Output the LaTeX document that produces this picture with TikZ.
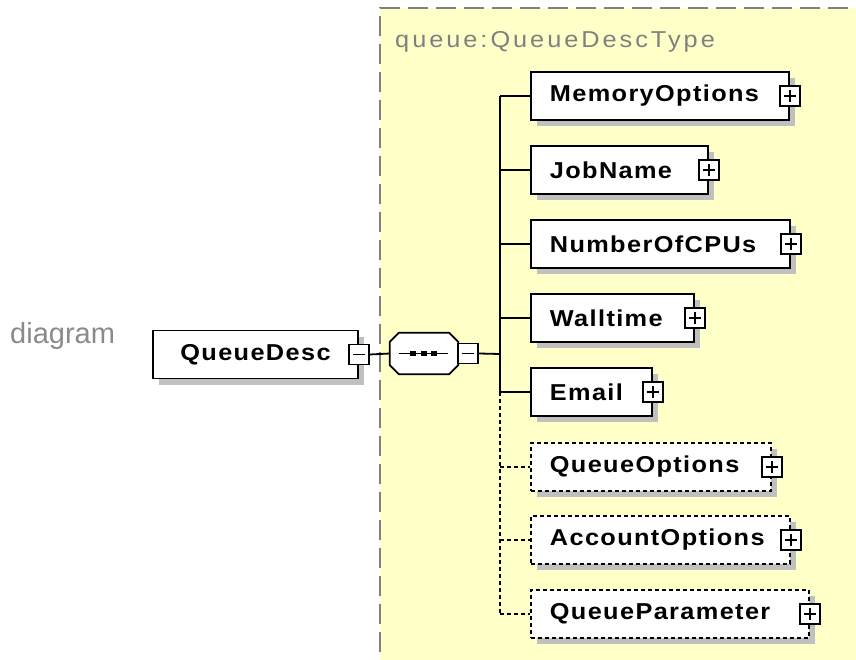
\documentclass[tikz,border=0pt]{standalone}
\usepackage{fontspec}
\setmainfont{Liberation Sans}
\newfontfamily\boxfont[FakeStretch=1.1,LetterSpace=6]{Liberation Sans}
\newfontfamily\typefont[FakeStretch=1.1,LetterSpace=13]{Liberation Sans}
\usetikzlibrary{shadows}
\definecolor{bgyellow}{HTML}{FFFFC8}
\definecolor{shadowgray}{HTML}{C0C0C0}
\definecolor{labelgray}{HTML}{808080}
\definecolor{diaggray}{HTML}{8A8A8A}
\newcommand{\etext}[2]{\makebox[#1][l]{#2}}
\tikzset{
  elem/.style={draw, line width=1.8pt, fill=white, minimum height=48pt,
    inner xsep=19pt, inner ysep=0pt,
    font=\boxfont\bfseries\fontsize{23}{26}\selectfont,
    drop shadow={shadow xshift=6pt, shadow yshift=-6pt, fill=shadowgray, opacity=1}},
  optelem/.style={elem, dash pattern=on 4pt off 3pt},
  signbox/.style={draw, line width=1.5pt, fill=white, minimum width=20pt,
    minimum height=20pt, inner sep=0pt},
  plusbox/.style={signbox, path picture={
    \draw[line width=1.5pt] ([xshift=4pt]path picture bounding box.west) -- ([xshift=-4pt]path picture bounding box.east);
    \draw[line width=1.5pt] ([yshift=-4pt]path picture bounding box.north) -- ([yshift=4pt]path picture bounding box.south);}},
  minusbox/.style={signbox, path picture={
    \draw[line width=1.5pt] ([xshift=4pt]path picture bounding box.west) -- ([xshift=-4pt]path picture bounding box.east);}},
  conn/.style={line width=1.8pt},
  optconn/.style={line width=1.8pt, dash pattern=on 4pt off 3pt},
}
\begin{document}
\begin{tikzpicture}[x=1pt, y=-1pt]
\useasboundingbox (0,0) rectangle (856,660);
\clip (0,0) rectangle (856,660);
% type region
\fill[bgyellow] (380,8) rectangle (880,680);
\draw[labelgray, line width=2pt, dash pattern=on 20pt off 8pt] (380,680) -- (380,8) -- (880,8);
\node[anchor=base west, inner sep=0pt, text=labelgray, font=\typefont\fontsize{23}{26}\selectfont] (typelabel) at (395,48) {queue:QueueDescType};
% diagram label
\node[anchor=base west, inner sep=0pt, text=diaggray, font=\fontsize{29}{32}\selectfont] (diaglabel) at (10,343) {diagram};
% root element
\node[elem, minimum width=205pt, inner xsep=0pt] (qd) at (255.5,354.5) {QueueDesc};
\node[minusbox] (qdm) at (qd.east) {};
% sequence compositor
\node[minimum width=68pt, minimum height=41pt, inner sep=0pt] (seq) at (424,353.5) {};
\fill[shadowgray, shift={(6,6)}]
  ([xshift=9pt]seq.north west) -- ([xshift=-9pt]seq.north east) -- ([yshift=-9pt]seq.north east) -- ([yshift=9pt]seq.south east) -- ([xshift=-9pt]seq.south east) -- ([xshift=9pt]seq.south west) -- ([yshift=9pt]seq.south west) -- ([yshift=-9pt]seq.north west) -- cycle;
\draw[line width=1.8pt, fill=white]
  ([xshift=9pt]seq.north west) -- ([xshift=-9pt]seq.north east) -- ([yshift=-9pt]seq.north east) -- ([yshift=9pt]seq.south east) -- ([xshift=-9pt]seq.south east) -- ([xshift=9pt]seq.south west) -- ([yshift=9pt]seq.south west) -- ([yshift=-9pt]seq.north west) -- cycle;
\draw[line width=1.5pt] ([xshift=-25pt]seq.center) -- ([xshift=24pt]seq.center);
\foreach \dx in {-11,0,10} \fill ([xshift=\dx pt]seq.center) +(-3,-2.2) rectangle +(3,2.2);
\node[minusbox] (seqm) at ([xshift=10pt]seq.east) {};
\draw[conn] (qdm.east) -- (seq.west);
\coordinate (bus) at (500,354);
\draw[conn] (seqm.east) -- (bus);
% children
\node[elem, anchor=west] (c1) at (530,96) {\etext{220pt}{MemoryOptions}};
\node[elem, anchor=west] (c2) at (530,170) {\etext{139pt}{JobName}};
\node[elem, anchor=west] (c3) at (530,244) {\etext{221pt}{NumberOfCPUs}};
\node[elem, anchor=west] (c4) at (530,318) {\etext{125pt}{Walltime}};
\node[elem, anchor=west] (c5) at (530,392) {\etext{83pt}{Email}};
\node[optelem, anchor=west] (c6) at (530,467) {\etext{202pt}{QueueOptions}};
\node[optelem, anchor=west] (c7) at (530,540) {\etext{221pt}{AccountOptions}};
\node[optelem, anchor=west] (c8) at (530,614) {\etext{240pt}{QueueParameter}};
\foreach \i in {1,...,8} \node[plusbox] (p\i) at (c\i.east) {};
% bus connectors
\draw[conn] (bus |- c1.west) -- (bus |- c5.west);
\draw[optconn] (bus |- c5.west) -- (bus |- c8.west);
\foreach \i in {1,...,5} \draw[conn] (bus |- c\i.west) -- (c\i.west);
\foreach \i in {6,7,8} \draw[optconn] (bus |- c\i.west) -- (c\i.west);
\end{tikzpicture}
\end{document}
